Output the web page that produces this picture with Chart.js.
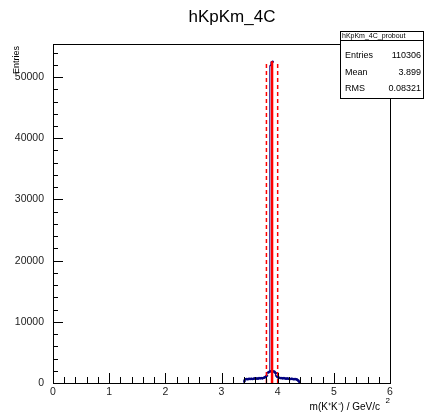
<!DOCTYPE html>
<html lang="en">
<head>
<meta charset="UTF-8">
<title>hKpKm_4C</title>
<script src="https://cdn.jsdelivr.net/npm/chart.js"></script>
<style>
    html, body { margin: 0; padding: 0; background: #fff; }
    #wrap { width: 424px; height: 417px; }
</style>
</head>
<body>
<div id="wrap"><canvas id="myChart" width="424" height="417"></canvas></div>

<script>
// histogram bins (centres, width 0.02) and counts
var binCenters = [3.41, 3.43, 3.45, 3.47, 3.49, 3.51, 3.53, 3.55, 3.57, 3.59,
                  3.61, 3.63, 3.65, 3.67, 3.69, 3.71, 3.73, 3.75, 3.77, 3.79,
                  3.81, 3.83, 3.85, 3.87, 3.89, 3.91, 3.93, 3.95, 3.97, 3.99,
                  4.01, 4.03, 4.05, 4.07, 4.09, 4.11, 4.13, 4.15, 4.17, 4.19,
                  4.21, 4.23, 4.25, 4.27, 4.29, 4.31, 4.33, 4.35, 4.37, 4.39];
var binCounts  = [300, 600, 650, 600, 700, 650, 700, 650, 700, 750,
                  700, 750, 700, 800, 750, 800, 750, 850, 900, 1000,
                  1200, 1700, 1800, 1900, 51900, 52500, 1900, 1800, 1600, 1100,
                  900, 850, 800, 800, 750, 800, 750, 700, 750, 700,
                  700, 650, 700, 650, 600, 650, 600, 550, 400, 200];
var binWidth = 0.02;

// cut lines (red)
var cutCenter = 3.9;
var cutLow = 3.8;
var cutHigh = 4.0;
var cutTop = 52600;

var xTickLabels = [0, 1, 2, 3, 4, 5, 6];
var yTickLabels = [0, 10000, 20000, 30000, 40000, 50000];
var statsRows = [['Entries', '110306'], ['Mean', '3.899'], ['RMS', '0.08321']];

var font = '"Liberation Sans", Arial, sans-serif';

// build stepped outline from bins
var outline = [{x: binCenters[0] - binWidth / 2, y: 0}];
for (var i = 0; i < binCenters.length; i++) {
    outline.push({x: binCenters[i] - binWidth / 2, y: binCounts[i]});
}
outline.push({x: binCenters[binCenters.length - 1] + binWidth / 2, y: 0});

var markers = binCenters.map(function(c, i) { return {x: c, y: binCounts[i]}; });

// ROOT style frame, inward ticks, title, stats box
var rootPlugin = {
    id: 'rootFrame',
    afterDraw: function(chart) {
        var ctx = chart.ctx;
        var a = chart.chartArea;
        var xs = chart.scales.x, ys = chart.scales.y;
        ctx.save();
        ctx.strokeStyle = '#000';
        ctx.lineWidth = 1;
        ctx.strokeRect(a.left + 0.5, a.top + 0.5, a.right - a.left, a.bottom - a.top);

        ctx.beginPath();
        // x ticks
        for (var t = 0; t <= 30; t++) {
            var v = t * 0.2;
            var px = Math.round(xs.getPixelForValue(v)) + 0.5;
            var len = (t % 5 === 0) ? 10 : 6;
            ctx.moveTo(px, a.bottom);
            ctx.lineTo(px, a.bottom - len);
        }
        // y ticks
        for (var k = 0; k <= 27; k++) {
            var yv = k * 2000;
            var py = Math.round(ys.getPixelForValue(yv)) + 0.5;
            var ylen = (k % 5 === 0) ? 10 : 5;
            ctx.moveTo(a.left, py);
            ctx.lineTo(a.left + ylen, py);
        }
        ctx.stroke();

        // title
        ctx.fillStyle = '#000';
        ctx.font = '17px ' + font;
        ctx.textAlign = 'center';
        ctx.textBaseline = 'middle';
        ctx.fillText('hKpKm_4C', 232, 17);

        // x axis title
        ctx.font = '10px ' + font;
        ctx.textAlign = 'right';
        ctx.textBaseline = 'alphabetic';
        ctx.fillText('m(K\u207AK\u207B) / GeV/c', 380, 410);
        ctx.font = '8px ' + font;
        ctx.fillText('2', 390, 403);

        // y axis title
        ctx.save();
        ctx.translate(17, 46);
        ctx.rotate(-Math.PI / 2);
        ctx.font = '9px ' + font;
        ctx.textAlign = 'right';
        ctx.textBaseline = 'middle';
        ctx.fillText('Entries', 0, 0);
        ctx.restore();

        // stats box
        var bx = 340.5, by = 31.5, bw = 83, bh = 67;
        ctx.fillStyle = '#fff';
        ctx.fillRect(bx, by, bw, bh);
        ctx.strokeStyle = '#000';
        ctx.strokeRect(bx, by, bw, bh);
        ctx.beginPath();
        ctx.moveTo(bx, 40.5);
        ctx.lineTo(bx + bw, 40.5);
        ctx.stroke();
        ctx.fillStyle = '#000';
        ctx.font = '7px ' + font;
        ctx.textAlign = 'left';
        ctx.textBaseline = 'middle';
        ctx.fillText('hKpKm_4C_probout', 342, 36);
        ctx.font = '9px ' + font;
        var rowY = [56, 73, 89];
        for (var r = 0; r < statsRows.length; r++) {
            ctx.textAlign = 'left';
            ctx.fillText(statsRows[r][0], 345, rowY[r]);
            ctx.textAlign = 'right';
            ctx.fillText(statsRows[r][1], 421, rowY[r]);
        }
        ctx.restore();
    }
};

var ctx = document.getElementById('myChart').getContext('2d');
var myChart = new Chart(ctx, {
    type: 'scatter',
    data: {
        datasets: [
            // red cut lines first so they sit on top of the histogram
            {
                type: 'line',
                data: [{x: cutCenter, y: 0}, {x: cutCenter, y: cutTop}],
                borderColor: '#ff0000',
                borderWidth: 2.5,
                pointRadius: 0
            },
            {
                type: 'line',
                data: [{x: cutLow, y: 0}, {x: cutLow, y: cutTop}],
                borderColor: '#ff0000',
                borderWidth: 1.5,
                borderDash: [4, 3],
                pointRadius: 0
            },
            {
                type: 'line',
                data: [{x: cutHigh, y: 0}, {x: cutHigh, y: cutTop}],
                borderColor: '#ff0000',
                borderWidth: 1.5,
                borderDash: [4, 3],
                pointRadius: 0
            },
            {
                data: markers,
                backgroundColor: '#000080',
                borderColor: '#000080',
                pointRadius: 1,
                pointStyle: 'rect'
            },
            {
                type: 'line',
                data: outline,
                stepped: 'after',
                borderColor: '#000080',
                borderWidth: 1,
                pointRadius: 0,
                fill: false
            }
        ]
    },
    options: {
        responsive: false,
        animation: false,
        layout: { padding: { top: 44, right: 34, left: 0, bottom: 0 } },
        plugins: { legend: { display: false }, tooltip: { enabled: false } },
        scales: {
            x: {
                type: 'linear',
                min: 0,
                max: 6,
                grid: { display: false, drawTicks: false },
                border: { display: false },
                afterBuildTicks: function(s) { s.ticks = xTickLabels.map(function(v) { return {value: v}; }); },
                afterFit: function(s) { s.height = 34; },
                ticks: {
                    padding: 3,
                    color: '#222',
                    font: { family: font, size: 10.5 },
                    maxRotation: 0,
                    callback: function(v) { return String(v); }
                }
            },
            y: {
                type: 'linear',
                min: 0,
                max: 55400,
                grid: { display: false, drawTicks: false },
                border: { display: false },
                afterBuildTicks: function(s) { s.ticks = yTickLabels.map(function(v) { return {value: v}; }); },
                afterFit: function(s) { s.width = 53; },
                ticks: {
                    padding: 9,
                    color: '#222',
                    font: { family: font, size: 10.5 },
                    callback: function(v) { return String(v); }
                }
            }
        }
    },
    plugins: [rootPlugin]
});
</script>
</body>
</html>
